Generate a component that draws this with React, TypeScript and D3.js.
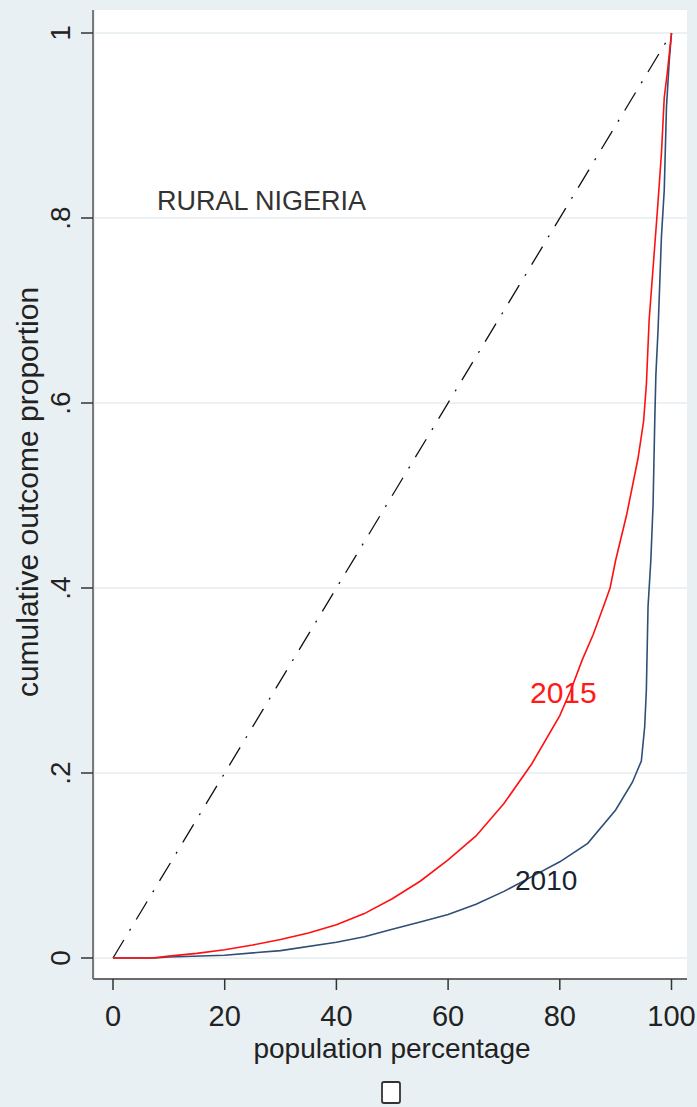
import React from "react";
import * as d3 from "d3";

const xTicks = [0, 20, 40, 60, 80, 100];
const yTicks = [0, 0.2, 0.4, 0.6, 0.8, 1];
const yTickLabels = ["0", ".2", ".4", ".6", ".8", "1"];

const equalityX = [0, 100];
const equalityY = [0, 1];

const red2015X = [0, 7, 10, 15, 20, 25, 30, 35, 40, 45, 50, 55, 60, 65, 70, 75, 80, 82, 84, 86, 88, 89, 90, 92, 94, 95, 95.5, 96, 96.5, 97, 97.5, 98.2, 98.7, 99.3, 100];
const red2015Y = [0, 0, 0.002, 0.005, 0.009, 0.014, 0.02, 0.027, 0.036, 0.048, 0.064, 0.083, 0.106, 0.132, 0.167, 0.21, 0.262, 0.29, 0.322, 0.35, 0.383, 0.40, 0.43, 0.48, 0.54, 0.58, 0.62, 0.69, 0.73, 0.77, 0.81, 0.87, 0.93, 0.96, 1];

const blue2010X = [0, 7.5, 10, 20, 30, 40, 45, 50, 55, 60, 65, 70, 75, 80, 85, 90, 93, 94.6, 95.2, 95.5, 95.8, 96.3, 96.7, 97, 97.2, 97.6, 98.2, 98.7, 99.1, 99.6, 100];
const blue2010Y = [0, 0, 0.001, 0.003, 0.008, 0.017, 0.023, 0.031, 0.039, 0.047, 0.058, 0.072, 0.088, 0.104, 0.124, 0.16, 0.19, 0.213, 0.25, 0.29, 0.38, 0.43, 0.49, 0.58, 0.63, 0.68, 0.78, 0.83, 0.92, 0.97, 1];

const W = 697;
const H = 1107;
const FONT = "'Liberation Sans', Arial, sans-serif";

export default function App() {
  const x = d3.scaleLinear().domain([0, 100]).range([113, 671.5]);
  const y = d3.scaleLinear().domain([0, 1]).range([958, 33]);
  const plotL = 95, plotR = 687, plotT = 10, plotB = 979;

  const line = d3
    .line<[number, number]>()
    .x((d) => x(d[0]))
    .y((d) => y(d[1]));

  const eq = line(equalityX.map((v, i) => [v, equalityY[i]]) as [number, number][]) || "";
  const red = line(red2015X.map((v, i) => [v, red2015Y[i]]) as [number, number][]) || "";
  const blue = line(blue2010X.map((v, i) => [v, blue2010Y[i]]) as [number, number][]) || "";

  return (
    <svg
      width={W}
      height={H}
      style={{ position: "absolute", left: 0, top: 0, display: "block" }}
      fontFamily={FONT}
    >
      <rect x={0} y={0} width={W} height={H} fill="#e9f0f3" />
      <rect x={plotL} y={plotT} width={plotR - plotL} height={plotB - plotT} fill="#ffffff" />

      {yTicks.map((t) => (
        <line key={"g" + t} x1={plotL} x2={plotR} y1={y(t)} y2={y(t)} stroke="#e6eef1" strokeWidth={1.5} />
      ))}

      {/* axes */}
      <line x1={93} x2={93} y1={plotT} y2={plotB} stroke="#7a7a7a" strokeWidth={2} />
      <line x1={93} x2={plotR} y1={plotB} y2={plotB} stroke="#6a6a6a" strokeWidth={2} />

      {yTicks.map((t, i) => (
        <g key={"yt" + t}>
          <line x1={81} x2={93} y1={y(t)} y2={y(t)} stroke="#333" strokeWidth={1.5} />
          <text
            transform={`translate(70,${y(t)}) rotate(-90)`}
            textAnchor="middle"
            fontSize={28}
            fill="#222"
          >
            {yTickLabels[i]}
          </text>
        </g>
      ))}

      {xTicks.map((t) => (
        <g key={"xt" + t}>
          <line x1={x(t)} x2={x(t)} y1={plotB} y2={990} stroke="#333" strokeWidth={1.5} />
          <text x={x(t)} y={1026} textAnchor="middle" fontSize={29} fill="#222">
            {t}
          </text>
        </g>
      ))}

      <text x={392} y={1058} textAnchor="middle" fontSize={28} fill="#222">
        population percentage
      </text>
      <text transform="translate(38,492) rotate(-90)" textAnchor="middle" fontSize={30} fill="#222">
        cumulative outcome proportion
      </text>

      <rect x={382} y={1082} width={18} height={21} rx={2} fill="#ffffff" stroke="#333" strokeWidth={1.8} />

      {/* lines */}
      <path d={eq} fill="none" stroke="#111" strokeWidth={1.3} strokeDasharray="21,11,2,11" />
      <path d={blue} fill="none" stroke="#2f4f75" strokeWidth={1.6} />
      <path d={red} fill="none" stroke="#ff1010" strokeWidth={1.6} />

      <text x={157} y={210} fontSize={27} fill="#333">
        RURAL NIGERIA
      </text>
      <text x={530} y={703} fontSize={30} fill="#ff1a1a">
        2015
      </text>
      <text x={515} y={890} fontSize={28} fill="#1a2230">
        2010
      </text>
    </svg>
  );
}
